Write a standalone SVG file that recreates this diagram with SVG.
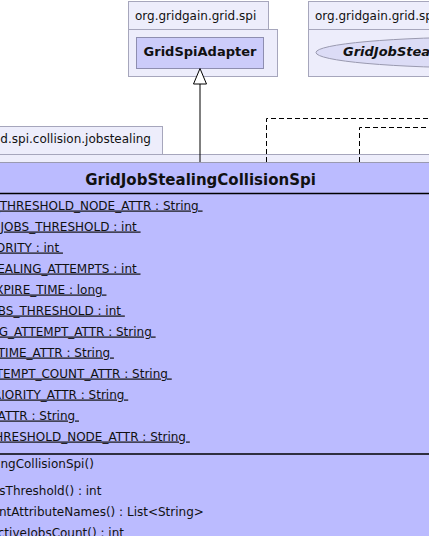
<svg xmlns="http://www.w3.org/2000/svg" width="429" height="536" viewBox="0 0 429 536">
<style>
.pkg{fill:#ededfb;stroke:#a6a6bc;stroke-width:1}
.cls{fill:#bbbbff;stroke:#9a9ab0;stroke-width:1}
.cls2{fill:#ccccfa;stroke:#8e8eb0;stroke-width:1}
.ell{fill:#dcdcf6;stroke:#9a9ab0;stroke-width:1}
.sep{stroke:#000;stroke-width:1.5}
.t{font-family:"DejaVu Sans",sans-serif;font-size:12px;fill:#111}
.b{font-family:"DejaVu Sans",sans-serif;font-weight:bold;fill:#111}
.u{text-decoration:underline;white-space:pre}
.dash{fill:none;stroke:#000;stroke-width:1;stroke-dasharray:5,3}
</style>
<g id="pkg-spi">
<rect class="pkg" x="128.5" y="1.5" width="140" height="28"/>
<rect class="pkg" x="128.5" y="29.5" width="149" height="47"/>
<text class="t" x="135" y="19.5">org.gridgain.grid.spi</text>
</g>
<g id="GridSpiAdapter">
<rect class="cls2" x="136.5" y="37.5" width="127" height="31"/>
<text class="b" x="200" y="55.5" font-size="13" text-anchor="middle">GridSpiAdapter</text>
</g>
<g id="pkg-mbean">
<rect class="pkg" x="308.5" y="1.5" width="300" height="28"/>
<rect class="pkg" x="308.5" y="29.5" width="300" height="47"/>
<text class="t" x="315" y="19.5">org.gridgain.grid.spi.collision.jobstealing</text>
</g>
<g id="GridJobStealingCollisionSpiMBean">
<ellipse class="ell" cx="490" cy="52.5" rx="174" ry="15.5"/>
<text class="b" x="343" y="56" font-size="13" font-style="italic">GridJobStealingCollisionSpiMBean</text>
</g>
<g id="pkg-jobstealing">
<rect class="pkg" x="-200" y="126.5" width="362.5" height="28"/>
<rect class="pkg" x="-200" y="154.5" width="900" height="500"/>
<text class="t" x="151" y="143" text-anchor="end">org.gridgain.grid.spi.collision.jobstealing</text>
</g>
<g id="GridJobStealingCollisionSpi">
<rect class="cls" x="-120" y="162.5" width="700" height="500"/>
<text class="b" x="200.5" y="184.5" font-size="15" text-anchor="middle">GridJobStealingCollisionSpi</text>
<line class="sep" x1="-120" y1="193.5" x2="580" y2="193.5"/>
<g class="t">
<text class="u" x="-84" y="209.5">ACTIVE_JOBS_THRESHOLD_NODE_ATTR : String </text>
<text class="u" x="-83" y="230.5">DFLT_ACTIVE_JOBS_THRESHOLD : int </text>
<text class="u" x="-85" y="251.5">DFLT_JOB_PRIORITY : int </text>
<text class="u" x="-85" y="272.5">DFLT_MAX_STEALING_ATTEMPTS : int </text>
<text class="u" x="-80" y="293.5">DFLT_MSG_EXPIRE_TIME : long </text>
<text class="u" x="-86" y="314.5">DFLT_WAIT_JOBS_THRESHOLD : int </text>
<text class="u" x="-84" y="335.5">MAX_STEALING_ATTEMPT_ATTR : String </text>
<text class="u" x="-84" y="356.5">MSG_EXPIRE_TIME_ATTR : String </text>
<text class="u" x="-84" y="377.5">STEALING_ATTEMPT_COUNT_ATTR : String </text>
<text class="u" x="-79.5" y="398.5">STEALING_PRIORITY_ATTR : String </text>
<text class="u" x="-84" y="419.5">THIEF_NODE_ATTR : String </text>
<text class="u" x="-84" y="440.5">WAIT_JOBS_THRESHOLD_NODE_ATTR : String </text>
</g>
<line class="sep" x1="-120" y1="454" x2="580" y2="454"/>
<g class="t">
<text x="-77" y="467.5">GridJobStealingCollisionSpi()</text>
<text x="-76" y="495">getActiveJobsThreshold() : int</text>
<text x="-72" y="516">getConsistentAttributeNames() : List&lt;String&gt;</text>
<text x="-75" y="537">getCurrentActiveJobsCount() : int</text>
</g>
</g>
<g id="connectors">
<line x1="200" y1="84" x2="200" y2="162" stroke="#000" stroke-width="1"/>
<polygon points="200,68.5 193.5,84 206.5,84" fill="#fff" stroke="#000" stroke-width="1"/>
<polyline class="dash" points="266.5,162 266.5,118.5 440,118.5"/>
<polyline class="dash" points="359.5,162 359.5,127.5 440,127.5"/>
</g>
</svg>
